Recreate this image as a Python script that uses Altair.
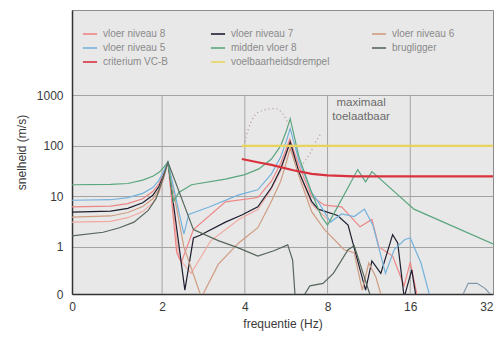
import altair as alt
import pandas as pd

# ---------------- data ----------------
x_min, x_max = 0.94, 32                 # left edge is labelled "0"
y_min, y_max = 0.117, 49000             # bottom edge is labelled "0"
x_ticks = [x_min, 2, 4, 8, 16, 32]
y_ticks = [y_min, 1, 10, 100, 1000]
grid_f = [2, 4, 8, 16]

# legend order (the legend fills column by column, 3 rows)
series_names = ["vloer niveau 8", "vloer niveau 5", "criterium VC-B",
                "vloer niveau 7", "midden vloer 8", "voelbaarheidsdrempel",
                "vloer niveau 6", "brugligger"]
series_colors = ["#ee8585", "#74b2dc", "#d8323e",
                 "#1e1e30", "#5aa67e", "#e8d45c",
                 "#cf9c80", "#55665a"]

f_n8 = [0.94, 1.3, 1.5, 1.7, 1.85, 1.95, 2.03, 2.1, 2.26, 2.35, 2.6, 3.4, 4.46, 5.0, 5.4, 5.65,
        5.83, 6.3, 7.0, 7.8, 9.0, 10.5, 11.6, 12.3, 13.8, 15.2, 16.0, 17.0]
v_n8 = [6.2, 6.4, 7.2, 9, 12.5, 18, 29, 48, 0.77, 0.5, 2.2, 7.8, 9.5, 20, 45, 85,
        137, 40, 10, 6.7, 6.2, 2.5, 3.5, 1.0, 0.66, 0.17, 0.5, 0.1]

f_n7 = [0.94, 1.3, 1.5, 1.7, 1.85, 1.95, 2.03, 2.1, 2.42, 2.6, 2.75, 3.4, 3.9, 4.46, 5.0, 5.4,
        5.65, 5.85, 6.3, 7.0, 7.4, 8.7, 9.5, 11.0, 11.6, 12.5, 13.8, 14.4, 15.2, 16.2, 16.8]
v_n7 = [4.9, 5.1, 5.8, 7.5, 10.5, 16, 27, 48, 0.14, 1.5, 1.7, 3.1, 4.3, 6.2, 15, 35,
        70, 120, 30, 8, 5.6, 4.2, 2.7, 0.14, 0.53, 0.3, 1.75, 1.2, 0.1, 0.35, 0.1]

f_n6 = [0.94, 1.3, 1.5, 1.7, 1.85, 1.95, 2.03, 2.1, 2.4, 2.78, 3.2, 3.8, 4.46, 5.0, 5.4, 5.65,
        5.85, 6.3, 7.0, 7.8, 9.2, 10.0, 10.7, 11.3, 12.0, 12.6]
v_n6 = [3.9, 4.1, 4.8, 6.3, 9, 14, 25, 48, 1.0, 0.1, 0.45, 1.2, 2.4, 8, 20, 45,
        90, 25, 5, 2.2, 0.88, 0.77, 0.14, 0.48, 0.25, 0.1]

f_n5 = [0.94, 1.3, 1.5, 1.7, 1.85, 1.95, 2.03, 2.1, 2.4, 2.5, 2.95, 3.8, 4.46, 5.0, 5.4, 5.65,
        5.85, 6.3, 7.0, 7.4, 8.2, 9.0, 10.0, 10.9, 11.7, 13.0, 14.0, 15.3, 16.0, 17.5, 18.9]
v_n5 = [8.4, 8.6, 9.5, 11.5, 15, 21, 32, 48, 1.8, 4.4, 6.1, 10.7, 13.5, 28, 60, 120,
        220, 50, 12, 7.8, 3.1, 4.5, 4.0, 5.6, 2.7, 0.3, 0.9, 1.4, 1.5, 0.48, 0.1]

f_mid = [0.94, 1.3, 1.5, 1.7, 1.85, 1.95, 2.03, 2.1, 2.2, 2.3, 2.56, 3.4, 4.0, 4.5, 5.0, 5.4,
         5.65, 5.85, 6.3, 7.0, 7.6, 8.0, 8.7, 10.3, 11.0, 11.6, 16.5, 32]
v_mid = [17, 17.3, 18, 21, 25, 30, 38, 48, 7.8, 12, 17, 22, 27, 35, 55, 100,
         190, 345, 60, 12, 4, 2.7, 6.2, 34, 19.5, 31, 5.6, 1.15]

f_brug = [0.94, 1.22, 1.4, 1.58, 1.78, 1.9, 2.0, 2.1, 2.6, 3.2, 3.77, 4.46, 5.1, 5.73, 5.97,
          6.1, 6.5, 6.9, 7.7, 8.4, 9.5, 10.0, 11.5]
v_brug = [1.66, 1.95, 2.4, 3.1, 5.3, 9, 20, 48, 2.2, 1.33, 0.97, 0.66, 0.84, 1.1, 0.55,
          0.1, 0.1, 0.17, 0.19, 0.3, 0.88, 1.06, 0.1]

f_crit = [3.9, 4.5, 5, 6, 7, 8, 10, 16, 32]
v_crit = [55, 47, 42, 33, 28, 26, 25, 25, 25]

f_voel = [3.9, 32]
v_voel = [100, 100]

# unlabelled extra traces visible in the picture
f_extra = [0.94, 1.3, 1.5, 1.7, 1.85, 1.95, 2.03, 2.1, 2.3, 2.55, 3.0, 3.8, 4.46, 5.0, 5.4,
           5.65, 5.83, 6.3, 7.0, 8.0]
v_extra = [3.1, 3.2, 3.8, 5, 7.5, 12, 23, 48, 0.6, 0.3, 1.3, 3.5, 5.5, 14, 32,
           65, 110, 30, 7, 3.5]
f_tail = [24.6, 26, 28, 30, 32]
v_tail = [0.1, 0.19, 0.19, 0.15, 0.1]

f_dot1 = [4.0, 4.1, 4.53, 5.14, 5.58, 5.8]
v_dot1 = [120, 200, 480, 550, 380, 250]
f_dot2 = [6.4, 6.9, 7.37, 7.6]
v_dot2 = [39, 71, 141, 180]

note_f = [10.6, 10.6]
note_v = [700, 380]
note_text = ["maximaal", "toelaatbaar"]

# ---------------- tables ----------------
def table(pairs):
    rows = []
    for name, fs, vs in pairs:
        for i, (f, v) in enumerate(zip(fs, vs)):
            rows.append({"serie": name, "f": f, "v": v, "i": i})
    return pd.DataFrame(rows)

df_thin = table([("vloer niveau 8", f_n8, v_n8), ("vloer niveau 7", f_n7, v_n7),
                 ("vloer niveau 6", f_n6, v_n6), ("vloer niveau 5", f_n5, v_n5),
                 ("midden vloer 8", f_mid, v_mid), ("brugligger", f_brug, v_brug)])
df_thick = table([("criterium VC-B", f_crit, v_crit),
                  ("voelbaarheidsdrempel", f_voel, v_voel)])
df_extra = table([("extra", f_extra, v_extra)])
df_tail = table([("tail", f_tail, v_tail)])
df_dots = table([("d1", f_dot1, v_dot1), ("d2", f_dot2, v_dot2)])
df_grid = pd.DataFrame({"f": grid_f, "lo": [y_min] * len(grid_f), "hi": [1000] * len(grid_f)})
df_note = pd.DataFrame({"f": note_f, "v": note_v, "t": note_text})

FONT = "Liberation Sans"

xscale = alt.Scale(type="log", base=2, domain=[x_min, x_max], nice=False)
yscale = alt.Scale(type="log", domain=[y_min, y_max], nice=False)

X = alt.X("f:Q", scale=xscale, title="frequentie (Hz)",
          axis=alt.Axis(values=x_ticks, grid=False, ticks=False,
                        labelExpr="datum.value < 1 ? '0' : format(datum.value, 'd')",
                        labelAlign={"condition": {"test": "datum.value >= 32", "value": "right"},
                                    "value": "center"},
                        labelPadding=7, titlePadding=6, labelFontSize=12,
                        titleFontSize=12, labelFlush=False))
Y = alt.Y("v:Q", scale=yscale, title="snelheid (m/s)",
          axis=alt.Axis(values=y_ticks, grid=True, ticks=False,
                        labelExpr="datum.value < 0.5 ? '0' : format(datum.value, 'd')",
                        labelPadding=9, titlePadding=8, labelFontSize=12,
                        titleFontSize=12))

color = alt.Color("serie:N",
                  scale=alt.Scale(domain=series_names, range=series_colors),
                  sort=series_names,
                  legend=alt.Legend(title=None, orient="none", legendX=10, legendY=16,
                                    columns=3, columnPadding=38, rowPadding=1,
                                    symbolType="stroke", symbolSize=200,
                                    symbolStrokeWidth=1.6, labelFontSize=10,
                                    labelColor="#8a8a8a", labelFont=FONT,
                                    gridAlign="each", labelOffset=5))

grid = alt.Chart(df_grid).mark_rule(color="#a4a4a4", strokeWidth=1).encode(
    x=alt.X("f:Q", scale=xscale), y=alt.Y("lo:Q", scale=yscale), y2="hi:Q")

thin = alt.Chart(df_thin).mark_line(strokeWidth=1.2, clip=True).encode(
    x=X, y=Y, color=color, order="i:Q", detail="serie:N")
thick = alt.Chart(df_thick).mark_line(strokeWidth=2.2, clip=True).encode(
    x=X, y=Y, color=color, order="i:Q", detail="serie:N")
extra = alt.Chart(df_extra).mark_line(strokeWidth=1.1, color="#f2a8a0", clip=True).encode(
    x=X, y=Y, order="i:Q")
tail = alt.Chart(df_tail).mark_line(strokeWidth=1.1, color="#7f95a8", clip=True).encode(
    x=X, y=Y, order="i:Q")
dots = alt.Chart(df_dots).mark_line(strokeWidth=1.2, color="#b88e8e",
                                     strokeDash=[1, 3], clip=True,
                                     interpolate="monotone").encode(
    x=X, y=Y, order="i:Q", detail="serie:N")
note = alt.Chart(df_note).mark_text(fontSize=11.5, color="#6a6a6a", font=FONT).encode(
    x=alt.X("f:Q", scale=xscale), y=alt.Y("v:Q", scale=yscale), text="t:N")

chart = alt.layer(grid, extra, thin, tail, dots, thick, note).properties(
    width=421, height=284,
    autosize=alt.AutoSizeParams(type="none"),
    padding={"left": 64, "top": 2, "right": 3, "bottom": 46},
    background="white",
).configure_view(
    fill="#e8e8e8", stroke="#8c8c8c", strokeWidth=1
).configure_axis(
    labelFont=FONT, titleFont=FONT, labelColor="#3a3a3a", titleColor="#3a3a3a",
    titleFontWeight="normal", domainColor="#333333", domainWidth=1.5,
    gridColor="#a4a4a4", gridWidth=1
)

chart.save("out.html", embed_options={"renderer": "svg", "actions": False})
